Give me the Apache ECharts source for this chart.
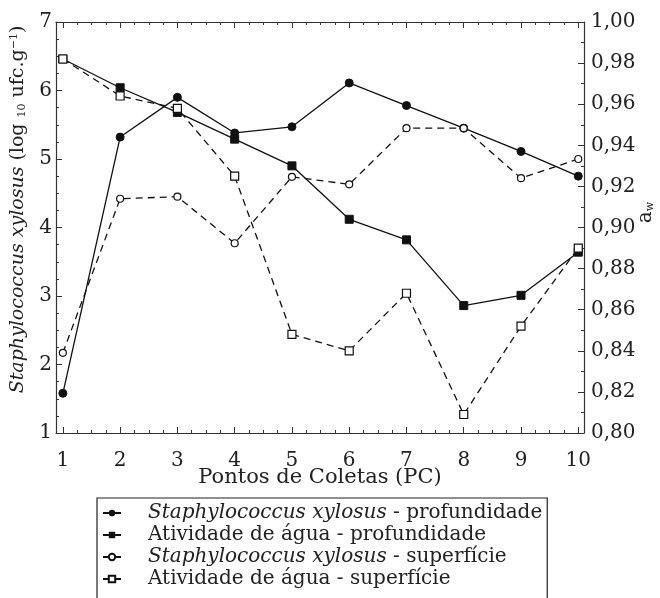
<!DOCTYPE html>
<html>
<head>
<meta charset="utf-8">
<script src="https://cdn.jsdelivr.net/npm/echarts@6/dist/echarts.min.js"></script>
<style>
  html, body { margin: 0; padding: 0; background: #fff; }
  #chart { width: 660px; height: 598px; }
</style>
</head>
<body>
<div id="chart"></div>
<script>
// pontos de coleta
var pontos = [1, 2, 3, 4, 5, 6, 7, 8, 9, 10];
// Staphylococcus xylosus (log10 ufc/g)
var sxProf = [1.58, 5.32, 5.90, 5.38, 5.47, 6.11, 5.78, 5.45, 5.11, 4.75];
var sxSup = [2.17, 4.42, 4.45, 3.77, 4.74, 4.63, 5.45, 5.45, 4.72, 5.00];
// atividade de agua
var awProf = [0.982, 0.968, 0.956, 0.943, 0.930, 0.904, 0.894, 0.862, 0.867, 0.888];
var awSup = [0.982, 0.964, 0.958, 0.925, 0.848, 0.840, 0.868, 0.809, 0.852, 0.890];

var xTicks = [1, 2, 3, 4, 5, 6, 7, 8, 9, 10];
var xMinor = [];
for (var i = 1; i < 10; i++) {
	xMinor.push(i + 0.25, i + 0.5, i + 0.75);
}

var FONT = 'DejaVu Serif';

function pares(ys) {
	var out = [];
	for (var i = 0; i < pontos.length; i++) out.push([pontos[i], ys[i]]);
	return out;
}

function eixoX(pos, ticks, len, main) {
	return {
		type: 'value', position: pos, min: 0.88, max: 10.1,
		axisLine: { show: main, lineStyle: { color: '#333', width: 1.2 } },
		axisTick: { show: true, inside: true, length: len, customValues: ticks, lineStyle: { color: '#333' } },
		axisLabel: { show: main && pos === 'bottom', customValues: xTicks, margin: 18,
			color: '#222', fontFamily: FONT, fontSize: 20 },
		splitLine: { show: false }
	};
}

var xb = eixoX('bottom', xTicks, 6, true);
xb.name = 'Pontos de Coletas (PC)';
xb.nameLocation = 'middle';
xb.nameGap = 34;
xb.nameMoveOverlap = false;
xb.nameTextStyle = { color: '#222', fontFamily: FONT, fontSize: 21 };

var chart = echarts.init(document.getElementById('chart'));
var option = {
	animation: false,
	backgroundColor: '#fff',
	grid: { left: 56, right: 76, top: 22, bottom: 165, containLabel: false, outerBoundsMode: 'none' },
	xAxis: [
		xb,
		eixoX('bottom', xMinor, 3, false),
		eixoX('top', xTicks, 6, true),
		eixoX('top', xMinor, 3, false)
	],
	yAxis: [
		{
			type: 'value', min: 1, max: 7, interval: 1,
			name: '{i|Staphylococcus xylosus} (log {sub|10} ufc.g{sup|−1})',
			nameLocation: 'middle', nameRotate: 90, nameGap: 28, nameMoveOverlap: false,
			nameTextStyle: {
				color: '#222', fontFamily: FONT, fontSize: 19,
				padding: [0, 0, 0, 36],
				rich: {
					i: { fontFamily: FONT, fontStyle: 'italic', fontSize: 19, color: '#222' },
					sub: { fontFamily: FONT, fontSize: 11, color: '#222', verticalAlign: 'bottom', padding: [8, 0, 0, 0] },
					sup: { fontFamily: FONT, fontSize: 11, color: '#222', verticalAlign: 'top', padding: [0, 0, 8, 0] }
				}
			},
			axisLine: { show: true, lineStyle: { color: '#333', width: 1.2 } },
			axisTick: { inside: true, length: 6, lineStyle: { color: '#333' } },
			minorTick: { show: true, splitNumber: 4, length: 3, lineStyle: { color: '#333' } },
			axisLabel: { margin: 4, color: '#222', fontFamily: FONT, fontSize: 20 },
			splitLine: { show: false }
		},
		{
			type: 'value', min: 0.8, max: 1.0, interval: 0.02, position: 'right',
			name: '{a|a}{w|w}',
			nameLocation: 'middle', nameRotate: 90, nameGap: 52, nameMoveOverlap: false,
			nameTextStyle: {
				color: '#222', fontFamily: FONT, fontSize: 20,
				padding: [0, 0, 0, 30],
				rich: {
					a: { fontFamily: FONT, fontSize: 20, color: '#222' },
					w: { fontFamily: FONT, fontSize: 11, color: '#222', verticalAlign: 'bottom', padding: [8, 0, 0, 0] }
				}
			},
			axisLine: { show: true, lineStyle: { color: '#333', width: 1.2 } },
			axisTick: { inside: true, length: 6, lineStyle: { color: '#333' } },
			minorTick: { show: true, splitNumber: 2, length: 3, lineStyle: { color: '#333' } },
			axisLabel: {
				margin: 7, color: '#222', fontFamily: FONT, fontSize: 20,
				formatter: function (v) { return v.toFixed(2).replace('.', ','); }
			},
			splitLine: { show: false }
		}
	],
	legend: {
		orient: 'vertical', left: 97, top: 498, height: 140,
		padding: [4, 5, 30, 5],
		itemGap: 0, itemWidth: 18, itemHeight: 8,
		borderColor: '#222', borderWidth: 1.2, borderRadius: 0,
		textStyle: {
			color: '#222', fontFamily: FONT, fontSize: 20, lineHeight: 22,
			padding: [0, 0, 0, 22],
			rich: {
				i: { fontFamily: FONT, fontStyle: 'italic', fontSize: 20, color: '#222', lineHeight: 22 },
				n: { fontFamily: FONT, fontSize: 20, color: '#222', lineHeight: 22 }
			}
		},
		formatter: function (name) {
			var p = name.split(' - ');
			if (p[0] === 'Staphylococcus xylosus') return '{i|' + p[0] + '}{n| - ' + p[1] + '}';
			return '{n|' + name + '}';
		},
		data: [
			'Staphylococcus xylosus - profundidade',
			'Atividade de água - profundidade',
			'Staphylococcus xylosus - superfície',
			'Atividade de água - superfície'
		]
	},
	series: [
		{
			name: 'Staphylococcus xylosus - profundidade', type: 'line',
			xAxisIndex: 0, yAxisIndex: 0, data: pares(sxProf),
			symbol: 'circle', symbolSize: 8,
			lineStyle: { color: '#111', width: 1.3 },
			itemStyle: { color: '#111', borderColor: '#111' }
		},
		{
			name: 'Atividade de água - profundidade', type: 'line',
			xAxisIndex: 0, yAxisIndex: 1, data: pares(awProf),
			symbol: 'rect', symbolSize: 8,
			lineStyle: { color: '#111', width: 1.3 },
			itemStyle: { color: '#111', borderColor: '#111' }
		},
		{
			name: 'Staphylococcus xylosus - superfície', type: 'line',
			xAxisIndex: 0, yAxisIndex: 0, data: pares(sxSup),
			symbol: 'circle', symbolSize: 7,
			lineStyle: { color: '#111', width: 1.3, type: [7, 5] },
			itemStyle: { color: '#fff', borderColor: '#111', borderWidth: 1.2 }
		},
		{
			name: 'Atividade de água - superfície', type: 'line',
			xAxisIndex: 0, yAxisIndex: 1, data: pares(awSup),
			symbol: 'rect', symbolSize: 8,
			lineStyle: { color: '#111', width: 1.3, type: [7, 5] },
			itemStyle: { color: '#fff', borderColor: '#111', borderWidth: 1.2 }
		}
	]
};
chart.setOption(option);
</script>
</body>
</html>
